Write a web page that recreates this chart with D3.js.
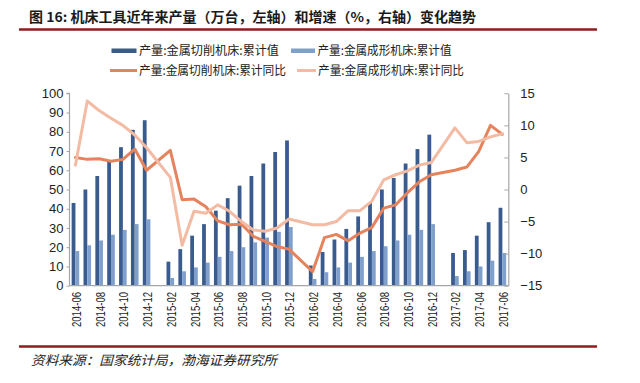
<!DOCTYPE html>
<html>
<head>
<meta charset="utf-8">
<script src="https://cdn.jsdelivr.net/npm/d3@7"></script>
<style>
  html, body { margin: 0; padding: 0; background: #ffffff; }
  svg { display: block; }
</style>
</head>
<body>
<div id="chart"></div>
<script>
// ---------------- data ----------------
const categories = [
  "2014-06","2014-07","2014-08","2014-09","2014-10","2014-11","2014-12",
  "2015-01","2015-02","2015-03","2015-04","2015-05","2015-06","2015-07","2015-08","2015-09","2015-10","2015-11","2015-12",
  "2016-01","2016-02","2016-03","2016-04","2016-05","2016-06","2016-07","2016-08","2016-09","2016-10","2016-11","2016-12",
  "2017-01","2017-02","2017-03","2017-04","2017-05","2017-06"
];
// 产量:金属切削机床:累计值 (万台, left axis)
const cuttingValue = [
  43, 50, 57, 65, 72, 81, 86,
  null, 12.5, 19, 26, 32, 39, 45.5, 52, 57, 63.5, 69.5, 75.5,
  null, 10.5, 17.5, 24, 29.5, 36, 43, 50, 56, 63.5, 71, 78.5,
  null, 17, 18.5, 26, 33, 40.5
];
// 产量:金属成形机床:累计值 (万台, left axis)
const formingValue = [
  18, 21, 23.5, 26.5, 29, 32, 34.5,
  null, 4, 7.5, 9.5, 12, 15, 18, 20, 22.5, 25, 28, 30.5,
  null, 3.5, 7, 9.5, 12, 15, 18, 20.5, 23.5, 26.5, 29, 32,
  null, 5, 7.5, 10, 13, 17
];
// 产量:金属切削机床:累计同比 (%, right axis)
const cuttingYoY = [
  5.0, 4.7, 4.8, 4.4, 4.7, 6.3, 3.0,
  null, 6.1, -1.6, -1.5, -2.7, -4.9, -5.5, -5.4, -7.3, -8.1, -8.9, -9.3,
  null, -12.8, -7.5, -7.0, -8.0, -6.8, -5.9, -2.9, -2.4, -0.5, 1.2, 2.3,
  null, 3.0, 3.5, 5.9, 10.0, 8.6
];
// 产量:金属成形机床:累计同比 (%, right axis)
const formingYoY = [
  3.8, 13.8, 12.3, 11.1, 10.0, 8.5, 6.5,
  null, 1.9, -8.7, -3.4, -3.7, -2.4, -3.4, -5.0, -6.3, -6.5, -6.0, -4.6,
  null, -5.5, -5.5, -5.0, -3.3, -3.3, -1.8, 1.5, 2.3, 2.9, 3.8, 4.2,
  null, 9.6, 7.3, 7.5, 8.2, 8.7
];
const leftTicks = [0, 10, 20, 30, 40, 50, 60, 70, 80, 90, 100];
const rightTicks = [-15, -10, -5, 0, 5, 10, 15];
const seriesNames = ["产量:金属切削机床:累计值", "产量:金属成形机床:累计值", "产量:金属切削机床:累计同比", "产量:金属成形机床:累计同比"];
const titleText = "图 16: 机床工具近年来产量（万台，左轴）和增速（%，右轴）变化趋势";
const sourceText = "资料来源：国家统计局，渤海证券研究所";

// ---------------- drawing ----------------
const W = 640, H = 383;
const X0 = 69.5, X1 = 508.3, Y0 = 93.3, Y1 = 285.7;
const C_DARK = "#3a5b8e", C_LIGHT = "#7f9fcd", C_ORANGE = "#e5835c", C_PEACH = "#f3bba3";
const C_RED = "#8e1c1e", C_AXIS = "#a6a6a6";
const CJK = "'Noto Sans CJK SC', 'Noto Sans', sans-serif";
const LAT = "'Liberation Sans', Arial, sans-serif";

const svg = d3.select("#chart").append("svg").attr("width", W).attr("height", H);

// title + rules
svg.append("text").attr("x", 29).attr("y", 17).attr("dy", "0.35em")
  .attr("font-family", CJK).attr("font-weight", "bold").attr("font-size", 13.5)
  .attr("fill", "#1a1a1a").attr("textLength", 447).attr("lengthAdjust", "spacingAndGlyphs")
  .text(titleText);
svg.append("line").attr("x1", 19).attr("x2", 597).attr("y1", 29.5).attr("y2", 29.5)
  .attr("stroke", C_RED).attr("stroke-width", 2.5);
svg.append("line").attr("x1", 19).attr("x2", 597).attr("y1", 346.5).attr("y2", 346.5)
  .attr("stroke", C_RED).attr("stroke-width", 2.5);
svg.append("text").attr("x", 31).attr("y", 360).attr("dy", "0.35em")
  .attr("font-family", CJK).attr("font-style", "italic").attr("font-size", 13)
  .attr("fill", "#222").attr("textLength", 246).attr("lengthAdjust", "spacingAndGlyphs")
  .text(sourceText);

// scales
const x = d3.scaleBand().domain(categories).range([X0, X1]).paddingInner(0.36).paddingOuter(0.18);
const xc = d => x(d) + x.bandwidth() / 2;
const xs = d3.scaleBand().domain([0, 1]).range([0, x.bandwidth()]);
const yL = d3.scaleLinear().domain([0, 100]).range([Y1, Y0]);
const yR = d3.scaleLinear().domain([-15, 15]).range([Y1, Y0]);

// bars
const barData = categories.map((c, i) => ({ c, v: [cuttingValue[i], formingValue[i]] }));
const colors = [C_DARK, C_LIGHT];
[0, 1].forEach(k => {
  svg.append("g").selectAll("rect")
    .data(barData.filter(d => d.v[k] != null))
    .join("rect")
    .attr("x", d => x(d.c) + xs(k))
    .attr("width", xs.bandwidth())
    .attr("y", d => yL(d.v[k]))
    .attr("height", d => Y1 - yL(d.v[k]))
    .attr("fill", colors[k]);
});

// axes
const gL = svg.append("g").attr("transform", `translate(${X0},0)`)
  .call(d3.axisLeft(yL).tickValues(leftTicks).tickSize(3).tickPadding(3));
const gR = svg.append("g").attr("transform", `translate(${X1},0)`)
  .call(d3.axisRight(yR).tickValues(rightTicks).tickSizeInner(-4).tickSizeOuter(0).tickPadding(12)
    .tickFormat(d3.format("d")));
[gL, gR].forEach(g => {
  g.select(".domain").attr("stroke", C_AXIS).attr("stroke-width", 1.2);
  g.selectAll(".tick line").attr("stroke", C_AXIS);
  g.selectAll(".tick text").attr("font-family", LAT).attr("font-size", 13).attr("fill", "#222");
});
gL.select(".domain").attr("d", `M-3,${Y0}H0V${Y1}`);

const gX = svg.append("g").attr("transform", `translate(0,${Y1})`)
  .call(d3.axisBottom(x).tickSize(0).tickFormat(""));
gX.select(".domain").attr("stroke", C_AXIS).attr("stroke-width", 1.2).attr("d", `M${X0},0H${X1}`);

// x labels (every other month)
svg.append("g").selectAll("text")
  .data(categories.filter((c, i) => i % 2 === 0))
  .join("text")
  .attr("transform", d => `translate(${xc(d) + 1},292) rotate(-90)`)
  .attr("text-anchor", "end").attr("dy", "0.35em")
  .attr("font-family", LAT).attr("font-size", 13).attr("fill", "#222")
  .attr("textLength", 35).attr("lengthAdjust", "spacingAndGlyphs")
  .text(d => d);

// lines
const lineGen = d3.line().x(d => xc(d.c)).y(d => yR(d.v));
const drawLine = (vals, col) => {
  const pts = categories.map((c, i) => ({ c, v: vals[i] })).filter(d => d.v != null);
  svg.append("path").datum(pts).attr("d", lineGen)
    .attr("fill", "none").attr("stroke", col).attr("stroke-width", 3)
    .attr("stroke-linejoin", "round").attr("stroke-linecap", "round");
};
drawLine(cuttingYoY, C_ORANGE);
drawLine(formingYoY, C_PEACH);

// legend
const lg = svg.append("g");
const legendItems = [
  { name: seriesNames[0], type: "rect", col: C_DARK, sx: 111.5, sw: 25, tx: 139, ty: 50.5, tl: 140 },
  { name: seriesNames[1], type: "rect", col: C_LIGHT, sx: 291, sw: 24, tx: 317.5, ty: 50.5, tl: 134 },
  { name: seriesNames[2], type: "line", col: C_ORANGE, sx: 110, sw: 27, tx: 139, ty: 70.5, tl: 147 },
  { name: seriesNames[3], type: "line", col: C_PEACH, sx: 297, sw: 19, tx: 318, ty: 70.5, tl: 146 }
];
legendItems.forEach(d => {
  if (d.type === "rect") {
    lg.append("rect").attr("x", d.sx).attr("y", d.ty - 2).attr("width", d.sw).attr("height", 4.5).attr("fill", d.col);
  } else {
    lg.append("line").attr("x1", d.sx).attr("x2", d.sx + d.sw).attr("y1", d.ty).attr("y2", d.ty)
      .attr("stroke", d.col).attr("stroke-width", 3);
  }
  lg.append("text").attr("x", d.tx).attr("y", d.ty).attr("dy", "0.35em")
    .attr("font-family", CJK).attr("font-size", 12).attr("fill", "#222")
    .attr("textLength", d.tl).attr("lengthAdjust", "spacingAndGlyphs")
    .text(d.name);
});
</script>
</body>
</html>
